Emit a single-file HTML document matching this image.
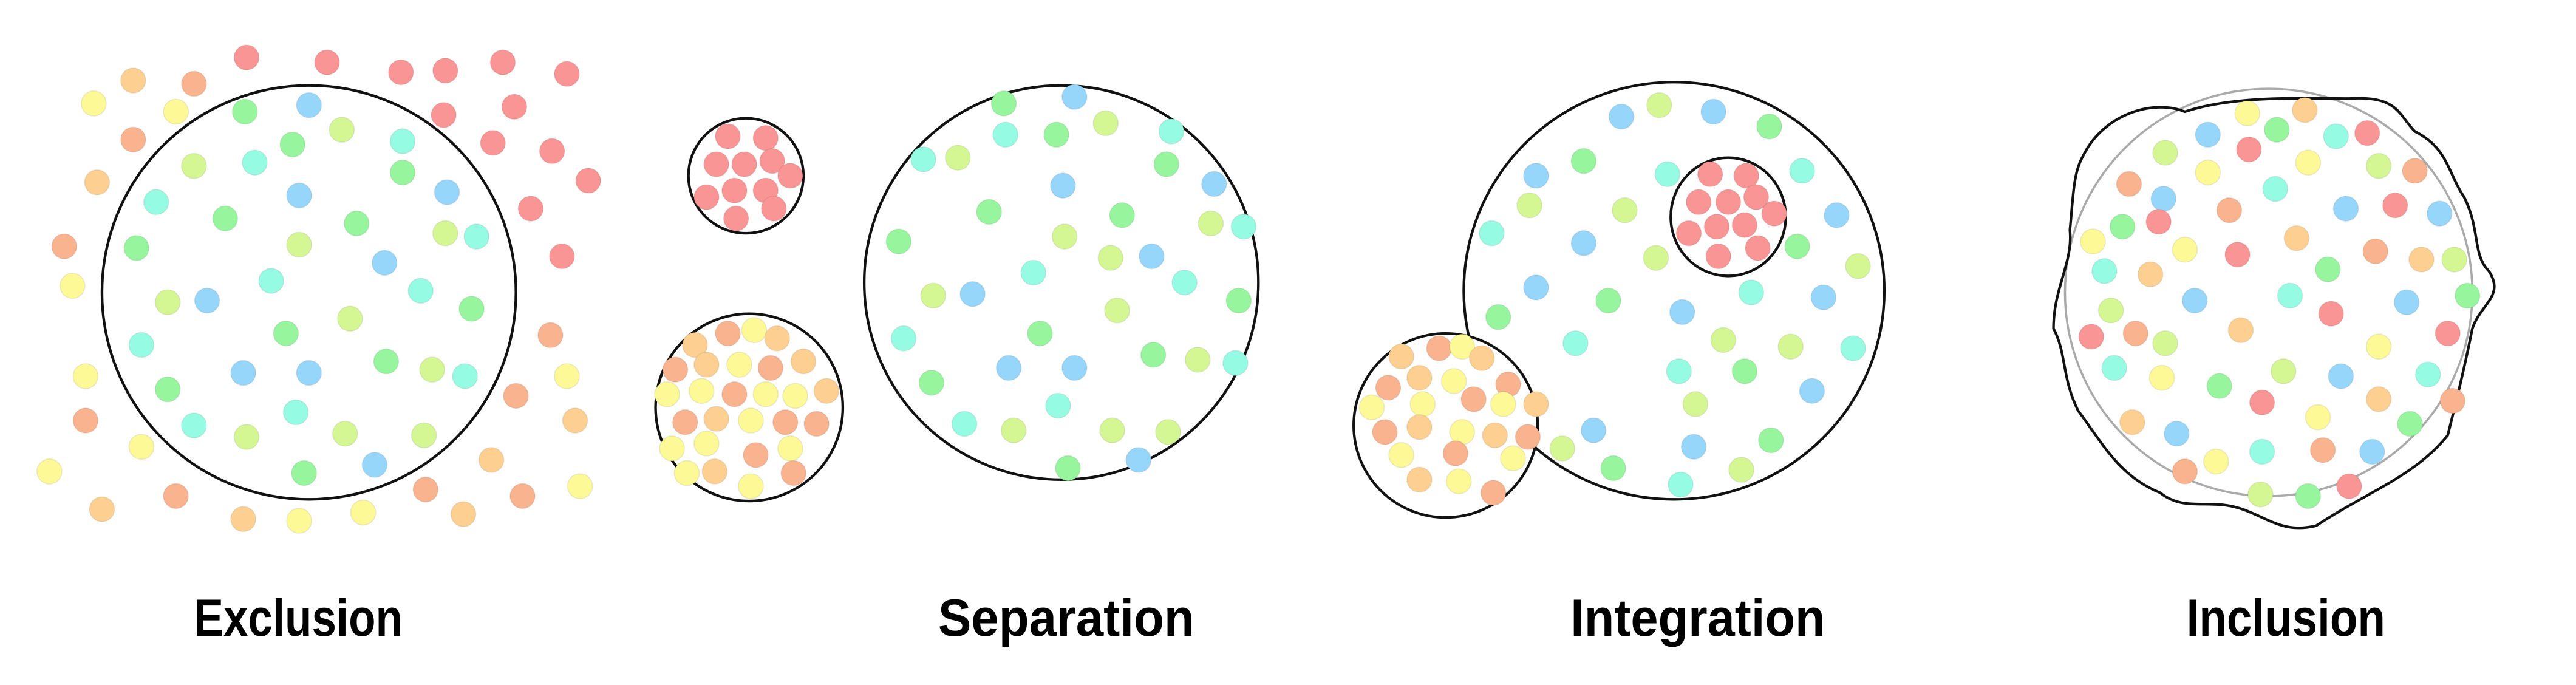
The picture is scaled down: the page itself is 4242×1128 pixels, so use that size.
<!DOCTYPE html>
<html><head><meta charset="utf-8"><style>
html,body{margin:0;padding:0;background:#fff;width:4242px;height:1128px;overflow:hidden}
svg{display:block}
text{font-family:"Liberation Sans",sans-serif;font-weight:bold;fill:#000}
</style></head><body>
<svg id="chart" width="4242" height="1128" viewBox="0 0 1568 417" xmlns="http://www.w3.org/2000/svg">
<g id="shapes" fill="none" stroke="#111" stroke-width="1.6">
 <circle cx="188" cy="178" r="126"/>
 <circle cx="454" cy="107" r="35"/>
 <circle cx="456" cy="248" r="57"/>
 <circle cx="646" cy="172" r="120"/>
 <ellipse cx="1019" cy="177" rx="128" ry="127"/>
 <ellipse cx="1052" cy="132" rx="35" ry="36"/>
 <circle cx="880" cy="259" r="56" fill="#fff"/>
 <circle cx="1381" cy="178" r="124" stroke="#aaa" stroke-width="1.3"/>
 <path d="M1268,95 C1280,70 1310,60 1330,68 C1360,58 1400,60 1430,60 C1460,58 1460,70 1470,80 C1490,90 1490,105 1500,120 C1510,140 1505,155 1515,165 C1525,180 1510,185 1505,200 C1500,225 1495,245 1490,265 C1470,290 1440,300 1410,320 C1390,325 1380,315 1365,310 C1345,303 1330,312 1315,300 C1290,290 1280,270 1265,250 C1255,230 1258,215 1250,200 C1250,175 1262,160 1260,140 C1262,120 1262,105 1268,95 Z"/>
</g>
<g id="dots"></g>
<text x="118" y="387" font-size="32" textLength="127" lengthAdjust="spacingAndGlyphs">Exclusion</text>
<text x="571" y="387" font-size="32" textLength="156" lengthAdjust="spacingAndGlyphs">Separation</text>
<text x="956" y="387" font-size="32" textLength="155" lengthAdjust="spacingAndGlyphs">Integration</text>
<text x="1331" y="387" font-size="32" textLength="121" lengthAdjust="spacingAndGlyphs">Inclusion</text>
</svg>
<script>
const colors={r:"#f99595",o:"#f9b38e",l:"#fdd091",y:"#fdf996",g:"#d4f794",G:"#97f59e",c:"#96fbe3",b:"#97d6fb"};
const exclusionDots=[[150,35,"r"],[199,38,"r"],[244,44,"r"],[271,43,"r"],[306,38,"r"],[345,45,"r"],[270,70,"r"],[313,65,"r"],[300,87,"r"],[336,92,"r"],[358,110,"r"],[323,127,"r"],[342,156,"r"],
[81,49,"l"],[118,51,"o"],[57,63,"y"],[107,68,"y"],[81,85,"o"],[59,111,"l"],[39,150,"o"],[44,174,"y"],[335,204,"o"],[345,229,"y"],[314,241,"o"],[350,256,"l"],[52,229,"y"],[52,256,"o"],[86,272,"y"],[30,287,"y"],[62,310,"l"],[107,302,"o"],[148,316,"l"],[182,317,"y"],[221,312,"y"],[259,298,"o"],[282,313,"l"],[318,302,"o"],[353,296,"y"],[299,280,"l"],
[149,68,"G"],[188,64,"b"],[208,79,"g"],[178,88,"G"],[245,86,"c"],[118,101,"g"],[155,99,"c"],[245,105,"G"],[182,119,"b"],[95,123,"c"],[137,133,"G"],[217,136,"G"],[272,117,"b"],[271,142,"g"],[290,144,"c"],[182,149,"g"],[83,151,"G"],[234,160,"b"],[165,171,"c"],[256,177,"c"],[102,184,"g"],[126,183,"b"],[213,194,"g"],[287,188,"G"],[174,203,"G"],[86,210,"c"],[235,220,"G"],[263,225,"g"],[283,229,"c"],[148,227,"b"],[188,227,"b"],[102,237,"G"],[180,251,"c"],[118,259,"c"],[150,266,"g"],[210,264,"g"],[258,265,"g"],[228,283,"b"],[185,288,"G"]];
const separationDots=[[443,83,"r"],[466,84,"r"],[436,100,"r"],[453,100,"r"],[470,98,"r"],[481,107,"r"],[430,120,"r"],[447,116,"r"],[466,116,"r"],[448,133,"r"],[471,127,"r"],
[423,210,"l"],[443,203,"o"],[459,201,"y"],[473,206,"l"],[411,225,"o"],[430,222,"l"],[450,222,"y"],[469,224,"o"],[489,220,"l"],[406,240,"y"],[427,238,"y"],[447,240,"o"],[466,240,"y"],[484,241,"y"],[503,238,"l"],[417,257,"o"],[436,255,"l"],[457,256,"y"],[478,257,"o"],[497,258,"o"],[409,273,"y"],[430,270,"y"],[460,277,"o"],[481,273,"y"],[418,288,"y"],[435,287,"l"],[457,296,"y"],[483,288,"o"],
[611,63,"G"],[654,59,"b"],[583,96,"g"],[612,82,"c"],[643,82,"G"],[673,75,"g"],[713,80,"c"],[710,100,"G"],[562,97,"c"],[647,113,"b"],[739,112,"b"],[602,129,"G"],[648,144,"g"],[683,131,"G"],[737,136,"g"],[757,138,"c"],[547,147,"G"],[629,166,"c"],[676,157,"g"],[701,156,"b"],[721,172,"c"],[568,180,"g"],[592,179,"b"],[754,183,"G"],[680,189,"g"],[550,206,"c"],[633,203,"G"],[614,224,"b"],[654,224,"b"],[702,216,"G"],[729,219,"g"],[752,221,"c"],[567,233,"G"],[644,247,"c"],[587,258,"c"],[617,262,"g"],[677,262,"g"],[711,263,"g"],[650,285,"G"],[693,280,"b"]];
const integrationDots=[[987,71,"b"],[1010,64,"g"],[1043,68,"b"],[1077,77,"G"],[964,98,"G"],[935,107,"b"],[1015,106,"c"],[1097,104,"c"],[931,125,"g"],[989,128,"g"],[1118,131,"b"],[908,142,"c"],[1094,150,"G"],[1131,162,"g"],[964,148,"b"],[1008,157,"g"],[935,175,"b"],[979,183,"G"],[1024,190,"b"],[1066,178,"c"],[1110,181,"b"],[912,193,"G"],[959,209,"c"],[1049,207,"g"],[1022,226,"c"],[1062,226,"G"],[1090,211,"g"],[1128,212,"c"],[1032,246,"g"],[970,262,"b"],[1031,272,"b"],[1078,268,"G"],[951,273,"g"],[982,285,"G"],[1023,295,"c"],[1060,286,"g"],[1103,238,"b"],
[1041,106,"r"],[1063,107,"r"],[1034,123,"r"],[1052,123,"r"],[1069,120,"r"],[1080,130,"r"],[1028,142,"r"],[1045,138,"r"],[1062,137,"r"],[1046,156,"r"],[1070,151,"r"],
[853,217,"l"],[876,212,"o"],[890,211,"y"],[902,218,"l"],[845,236,"o"],[864,230,"l"],[885,232,"y"],[918,234,"o"],[835,248,"y"],[866,246,"y"],[897,243,"o"],[915,246,"y"],[935,246,"l"],[843,263,"o"],[864,260,"l"],[890,263,"y"],[910,265,"l"],[930,266,"o"],[853,277,"y"],[886,276,"o"],[921,279,"y"],[864,292,"l"],[888,293,"y"],[909,300,"o"]];
const inclusionDots=[[1368,69,"y"],[1403,67,"l"],[1344,82,"b"],[1386,79,"G"],[1369,91,"r"],[1422,83,"c"],[1441,81,"r"],[1318,93,"g"],[1344,105,"y"],[1405,99,"y"],[1448,101,"g"],[1470,104,"o"],[1296,112,"o"],[1317,121,"b"],[1385,115,"c"],[1357,128,"o"],[1428,127,"b"],[1458,125,"r"],[1485,130,"b"],[1292,138,"G"],[1314,135,"r"],[1274,147,"y"],[1330,152,"y"],[1398,145,"l"],[1362,155,"r"],[1446,153,"o"],[1474,158,"l"],[1494,158,"g"],[1281,165,"c"],[1309,167,"l"],[1417,164,"G"],[1394,180,"c"],[1336,183,"b"],[1419,191,"r"],[1465,184,"b"],[1502,180,"G"],[1285,189,"g"],[1273,205,"r"],[1300,203,"o"],[1318,209,"g"],[1364,201,"l"],[1448,211,"y"],[1490,203,"r"],[1287,224,"c"],[1316,230,"y"],[1351,235,"G"],[1390,226,"g"],[1425,229,"b"],[1478,228,"c"],[1377,245,"r"],[1411,254,"y"],[1448,243,"l"],[1493,244,"o"],[1298,257,"l"],[1467,258,"G"],[1325,264,"b"],[1377,275,"c"],[1414,274,"o"],[1444,275,"b"],[1330,287,"o"],[1349,281,"y"],[1376,301,"g"],[1405,302,"G"],[1430,296,"r"]];
const ns="http://www.w3.org/2000/svg";
const g=document.getElementById("dots");
function draw(list,name){
  list.forEach(function(d,i){
    const c=document.createElementNS(ns,"circle");
    c.setAttribute("cx",d[0]);c.setAttribute("cy",d[1]);c.setAttribute("r",7.6);
    c.setAttribute("fill",colors[d[2]]);
    c.setAttribute("stroke","rgba(0,0,0,0.08)");c.setAttribute("stroke-width","0.6");
    
    
    g.appendChild(c);
  });
}
draw(exclusionDots,"exclusion");
draw(separationDots,"separation");
draw(integrationDots,"integration");
draw(inclusionDots,"inclusion");
</script>
</body></html>
